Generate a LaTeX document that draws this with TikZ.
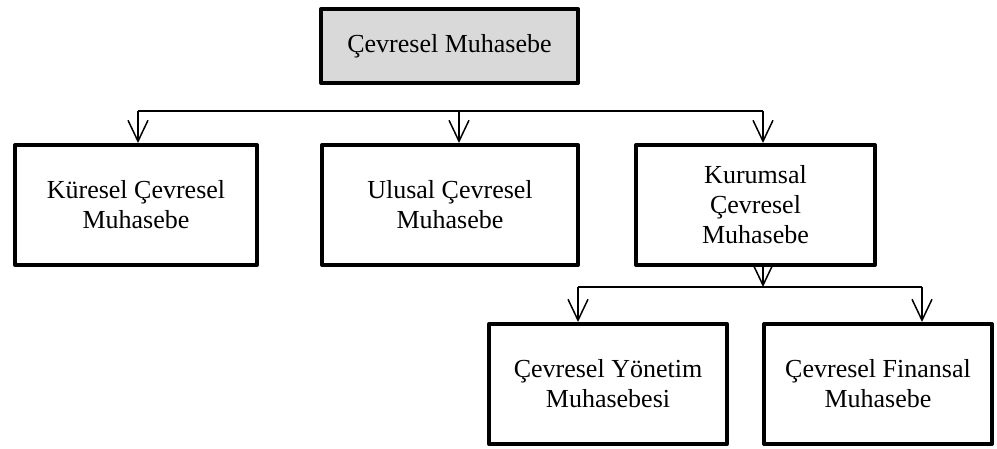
\documentclass[tikz,border=0pt]{standalone}
\usepackage{fontspec}
\setmainfont{Liberation Serif}
\usetikzlibrary{arrows.meta}

\definecolor{headfill}{HTML}{D9D9D9}

\tikzset{
  box/.style={draw=black, line width=4pt, line join=round, inner sep=0pt,
    align=center, font=\fontsize{26}{30}\selectfont},
  headbox/.style={box, fill=headfill},
  link/.style={draw=black, line width=1.5pt},
  linkarrow/.style={link, -{Straight Barb[length=21pt,width=20pt,line width=1.5pt]}}
}

\begin{document}
\begin{tikzpicture}[x=1pt, y=-1pt]
  \useasboundingbox (0,0) rectangle (997,448);

  % boxes
  \node[headbox, minimum width=257pt, minimum height=74pt] (top) at (449.5,46) {Çevresel Muhasebe};
  \node[box, minimum width=242pt, minimum height=120pt] (kuresel) at (136,205) {Küresel Çevresel\\Muhasebe};
  \node[box, minimum width=256pt, minimum height=120pt] (ulusal) at (450,205) {Ulusal Çevresel\\Muhasebe};
  \node[box, minimum width=239pt, minimum height=120pt] (kurumsal) at (755.5,205) {Kurumsal\\Çevresel\\Muhasebe};
  \node[box, minimum width=238pt, minimum height=120pt] (yonetim) at (608,384) {Çevresel Yönetim\\Muhasebesi};
  \node[box, minimum width=228pt, minimum height=120pt] (finansal) at (878,384) {Çevresel Finansal\\Muhasebe};

  % first distribution line
  \coordinate (busAL) at (138,111);
  \coordinate (busAM) at (459,111);
  \coordinate (busAR) at (763,111);
  \draw[link] (busAL) -- (busAR);
  \draw[linkarrow] (busAL) -- (busAL |- kuresel.north);
  \draw[linkarrow] (busAM) -- (busAM |- ulusal.north);
  \draw[linkarrow] (busAR) -- (busAR |- kurumsal.north);

  % second distribution line
  \coordinate (busBM) at (763,287);
  \coordinate (busBL) at (578,287);
  \coordinate (busBR) at (922,287);
  \draw[linkarrow] (busBM |- kurumsal.south) -- (busBM);
  \draw[link] (busBL) -- (busBR);
  \draw[linkarrow] (busBL) -- (busBL |- yonetim.north);
  \draw[linkarrow] (busBR) -- (busBR |- finansal.north);
\end{tikzpicture}
\end{document}
